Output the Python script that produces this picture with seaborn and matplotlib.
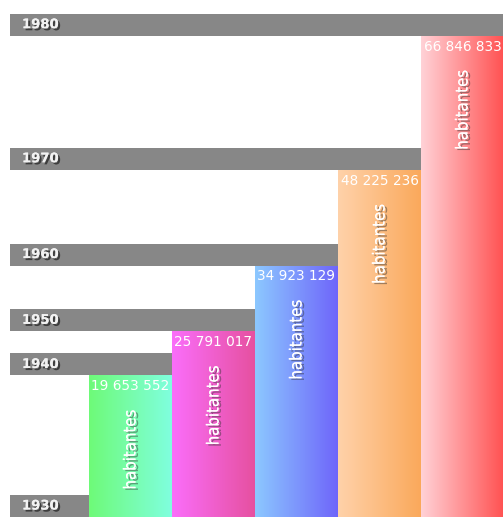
import numpy as np
import seaborn as sns
import matplotlib.pyplot as plt
import matplotlib.patheffects as pe
from matplotlib.colors import LinearSegmentedColormap

years = ["1930", "1940", "1950", "1960", "1970", "1980"]
population = [0, 19653552, 25791017, 34923129, 48225236, 66846833]
value_labels = ["", "19 653 552", "25 791 017", "34 923 129", "48 225 236", "66 846 833"]
gradient_left = ["#ffffff", "#6efa78", "#fa6efa", "#8cc8ff", "#ffd2aa", "#ffd2d7"]
gradient_right = ["#ffffff", "#80ffe0", "#e6509f", "#6e64fa", "#faa85a", "#ff5050"]

millions = [p / 1e6 for p in population]

BAND_H = 3.06
BAND_COLOR = "#878787"

sns.set_style("white")
fig = plt.figure(figsize=(5.03, 5.17), dpi=100)
ax = fig.add_axes([0, 0, 1, 1])

sns.barplot(x=years, y=millions, width=1, color="white", linewidth=0, ax=ax, zorder=3)
bars = list(ax.patches)

# gradient fill inside each column
grad = np.linspace(0, 1, 256).reshape(1, -1)
for i, patch in enumerate(bars):
    if millions[i] <= 0:
        continue
    cmap = LinearSegmentedColormap.from_list(f"g{i}", [gradient_left[i], gradient_right[i]])
    x0, w = patch.get_x(), patch.get_width()
    h = patch.get_height()
    im = ax.imshow(grad, cmap=cmap, aspect="auto", extent=[x0, x0 + w, 0, h],
                   zorder=3, interpolation="bicubic")
    im.set_clip_path(patch)
    patch.set_facecolor("none")

# grey year bands sitting on each column
band_left = -0.452
rights = [i + 0.5 for i in range(len(years))]
ax.barh(y=millions, width=[r - band_left for r in rights], left=band_left,
        height=BAND_H, align="edge", color=BAND_COLOR, linewidth=0, zorder=2)

shadow = [pe.withSimplePatchShadow(offset=(1.5, -1.5), shadow_rgbFace="black", alpha=0.55),
          pe.Normal()]
soft_shadow = [pe.withSimplePatchShadow(offset=(1.8, -1.2), shadow_rgbFace="#333333", alpha=0.45),
               pe.Normal()]

for i, yr in enumerate(years):
    ax.text(-0.307, millions[i] + BAND_H / 2, yr, color="#f2f2f2", fontsize=9.5,
            fontweight="bold", ha="left", va="center", zorder=5, path_effects=shadow)
    if millions[i] <= 0:
        continue
    ax.text(i, millions[i] - 1.5, value_labels[i], color="white", fontsize=9.8,
            ha="center", va="center", zorder=5, clip_on=False)
    ax.text(i, millions[i] - 10.3, "habitantes", color="white", fontsize=12,
            fontstretch="condensed", rotation=90, ha="center", va="center", zorder=5,
            path_effects=soft_shadow)

ax.set_xlim(-0.572, 5.488)
ax.set_ylim(0, 517 / 7.2)
ax.set_axis_off()

fig.savefig("out.png", dpi=100, facecolor="white")
